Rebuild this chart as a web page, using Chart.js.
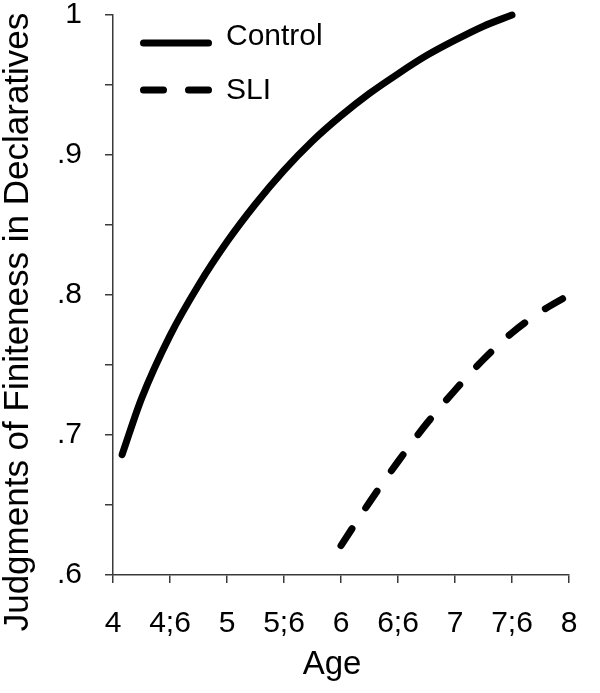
<!DOCTYPE html>
<html>
<head>
<meta charset="utf-8">
<script src="https://cdn.jsdelivr.net/npm/chart.js@4"></script>
<style>
  html, body { margin: 0; padding: 0; background: #fff; }
  #wrap { width: 600px; height: 693px; position: relative; }
</style>
</head>
<body>
<div id="wrap"><canvas id="chart_here"></canvas></div>
<script>
'use strict';
// fitted growth curves of finiteness judgments by age

// data
var controlAges = [4.08, 4.25, 4.5, 4.75, 5, 5.25, 5.5, 5.75, 6, 6.25, 6.5, 6.75, 7, 7.25, 7.5];
var controlValues = [0.686, 0.726, 0.771, 0.807, 0.838, 0.865, 0.889, 0.91, 0.928, 0.944, 0.958, 0.971, 0.982, 0.992, 1.0];
var sliAges = [6, 6.25, 6.5, 6.75, 7, 7.25, 7.5, 7.75, 8];
var sliValues = [0.621, 0.652, 0.681, 0.708, 0.732, 0.754, 0.773, 0.788, 0.8];

var xTickValues = [4, 4.5, 5, 5.5, 6, 6.5, 7, 7.5, 8];
var xTickLabels = ['4', '4;6', '5', '5;6', '6', '6;6', '7', '7;6', '8'];
var yTickValues = [0.6, 0.7, 0.8, 0.9, 1.0];
var yTickLabels = ['.6', '.7', '.8', '.9', '1'];

var seriesNames = ['Control', 'SLI'];
var xTitle = 'Age';
var yTitle = 'Judgments of Finiteness in Declaratives';

var fontFamily = '"Liberation Sans", Arial, sans-serif';
var axisColor = '#3a3a3a';

function toPoints(xs, ys) {
  var pts = [];
  for (var i = 0; i < xs.length; i++) {
    pts.push({ x: xs[i], y: ys[i] });
  }
  return pts;
}

function lookupLabel(value, values, labels) {
  for (var i = 0; i < values.length; i++) {
    if (Math.abs(values[i] - value) < 1e-6) {
      return labels[i];
    }
  }
  return '';
}

// legend and axis titles drawn at fixed spots like the original figure
var figureTextPlugin = {
  id: 'figureText',
  afterDraw: function(chart) {
    var ctx = chart.ctx;
    var datasets = chart.data.datasets;
    var rowsY = [43, 90];
    var textY = [37, 91];
    ctx.save();
    for (var i = 0; i < datasets.length; i++) {
      var ds = datasets[i];
      ctx.beginPath();
      ctx.setLineDash(ds.borderDash || []);
      ctx.lineCap = 'round';
      ctx.lineWidth = ds.borderWidth;
      ctx.strokeStyle = ds.borderColor;
      ctx.moveTo(143.5, rowsY[i]);
      ctx.lineTo(208.5, rowsY[i]);
      ctx.stroke();
      ctx.setLineDash([]);
      ctx.fillStyle = '#000';
      ctx.font = '30px ' + fontFamily;
      ctx.textAlign = 'left';
      ctx.textBaseline = 'middle';
      ctx.fillText(ds.label, 226, textY[i]);
    }
    // x title
    ctx.font = '33px ' + fontFamily;
    ctx.textAlign = 'center';
    ctx.textBaseline = 'alphabetic';
    ctx.fillText(xTitle, 332, 674);
    // y title
    ctx.translate(28, 322);
    ctx.rotate(-Math.PI / 2);
    ctx.font = '35px ' + fontFamily;
    ctx.fillText(yTitle, 0, 0);
    ctx.restore();
  }
};

var ctx = document.getElementById('chart_here').getContext('2d');
var ageChart = new Chart(ctx, {
  type: 'line',
  data: {
    datasets: [
      {
        label: seriesNames[0],
        data: toPoints(controlAges, controlValues),
        borderColor: '#000',
        borderWidth: 7,
        borderCapStyle: 'round',
        cubicInterpolationMode: 'monotone',
        pointRadius: 0,
        fill: false,
        clip: false
      },
      {
        label: seriesNames[1],
        data: toPoints(sliAges, sliValues),
        borderColor: '#000',
        borderWidth: 7,
        borderDash: [20, 25],
        borderCapStyle: 'round',
        cubicInterpolationMode: 'monotone',
        pointRadius: 0,
        fill: false,
        clip: false
      }
    ]
  },
  options: {
    responsive: true,
    maintainAspectRatio: false,
    animation: false,
    devicePixelRatio: 1,
    layout: { padding: { top: 15, right: 31, left: 0, bottom: 0 } },
    plugins: {
      legend: { display: false },
      tooltip: { enabled: false }
    },
    scales: {
      x: {
        type: 'linear',
        min: 4,
        max: 8,
        afterBuildTicks: function(scale) {
          scale.ticks = xTickValues.map(function(v) { return { value: v }; });
        },
        ticks: {
          autoSkip: false,
          maxRotation: 0,
          padding: 26,
          color: '#000',
          font: { family: fontFamily, size: 30, lineHeight: 1 },
          callback: function(value) { return lookupLabel(value, xTickValues, xTickLabels); }
        },
        grid: { drawOnChartArea: false, drawTicks: true, tickLength: 8, color: axisColor, lineWidth: 1.5 },
        border: { display: true, color: axisColor, width: 1.5 },
        afterFit: function(scale) {
          scale.height = 118;
          scale.paddingLeft = 0;
          scale.paddingRight = 0;
        }
      },
      y: {
        type: 'linear',
        min: 0.6,
        max: 1.0,
        ticks: {
          stepSize: 0.05,
          autoSkip: false,
          padding: 23,
          color: '#000',
          font: { family: fontFamily, size: 30, lineHeight: 1 },
          callback: function(value) { return lookupLabel(value, yTickValues, yTickLabels); }
        },
        grid: { drawOnChartArea: false, drawTicks: true, tickLength: 8, color: axisColor, lineWidth: 1.5 },
        border: { display: true, color: axisColor, width: 1.5 },
        afterFit: function(scale) {
          scale.width = 113;
          scale.paddingTop = 0;
          scale.paddingBottom = 0;
        }
      }
    }
  },
  plugins: [figureTextPlugin]
});
</script>
</body>
</html>
